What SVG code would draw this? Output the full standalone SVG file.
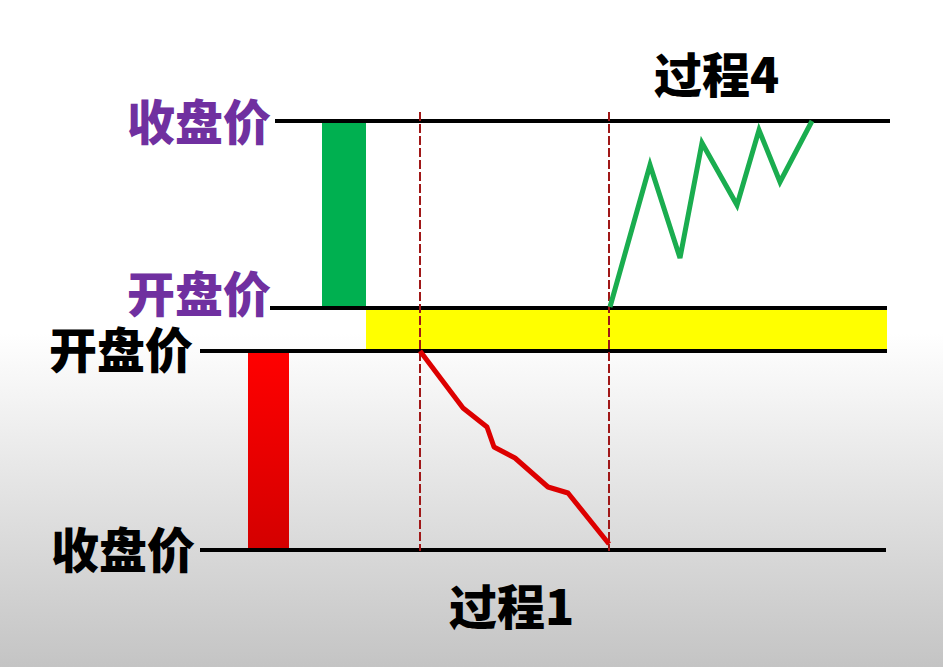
<svg xmlns="http://www.w3.org/2000/svg" width="943" height="667" viewBox="0 0 943 667">
  <defs>
    <linearGradient id="bg" x1="0" y1="0" x2="0" y2="1">
      <stop offset="0" stop-color="#ffffff"/>
      <stop offset="0.5" stop-color="#ffffff"/>
      <stop offset="1" stop-color="#c4c4c4"/>
    </linearGradient>
    <linearGradient id="redbar" x1="0" y1="0" x2="0" y2="1">
      <stop offset="0" stop-color="#ff0000"/>
      <stop offset="1" stop-color="#d40000"/>
    </linearGradient>
    <style>
      .lbl { font-family: "Noto Sans CJK SC", "Liberation Sans", sans-serif; font-weight: 900; font-size: 48px; }
      .purple { fill: #7030a0; }
      .black { fill: #000000; }
      .hline { stroke: #000000; stroke-width: 4; fill: none; }
      .dash { stroke: #a01818; stroke-width: 2; stroke-dasharray: 9 3; fill: none; }
    </style>
  </defs>
  <rect x="0" y="0" width="943" height="667" fill="url(#bg)"/>

  <g id="yellow-zone"><rect x="366" y="310" width="521" height="39" fill="#ffff00"/></g>
  <g id="green-candle"><rect x="322" y="123" width="44" height="184" fill="#00b050"/></g>
  <g id="red-candle"><rect x="248" y="353" width="41" height="195" fill="url(#redbar)"/></g>

  <g id="connectors">
    <line class="hline" x1="275" y1="121" x2="890" y2="121"/>
    <line class="hline" x1="270" y1="308" x2="887" y2="308"/>
    <line class="hline" x1="200" y1="351" x2="887" y2="351"/>
    <line class="hline" x1="200" y1="550" x2="886" y2="550"/>
    <line class="dash" x1="420" y1="112" x2="420" y2="551"/>
    <line class="dash" x1="609" y1="112" x2="609" y2="551"/>
    <polyline points="420,351 463,408 487,427 494,447 515,458 548,487 568,493 609,544" fill="none" stroke="#dd0000" stroke-width="5" stroke-linejoin="round"/>
    <polyline points="610,307 650,165 680,258 702,143 737,205 759,130 780,182 812,121" fill="none" stroke="#1aad4f" stroke-width="5" stroke-linejoin="miter"/>
  </g>

  <g id="label-close-top"><text class="lbl purple" x="127" y="140">收盘价</text></g>
  <g id="label-open-top"><text class="lbl purple" x="127" y="312">开盘价</text></g>
  <g id="label-open-bottom"><text class="lbl black" x="49" y="368">开盘价</text></g>
  <g id="label-close-bottom"><text class="lbl black" x="51" y="568">收盘价</text></g>
  <g id="label-process4"><text class="lbl black" x="654" y="93" font-size="45">过程4</text></g>
  <g id="label-process1"><text class="lbl black" x="449" y="625" font-size="45">过程1</text></g>
</svg>
